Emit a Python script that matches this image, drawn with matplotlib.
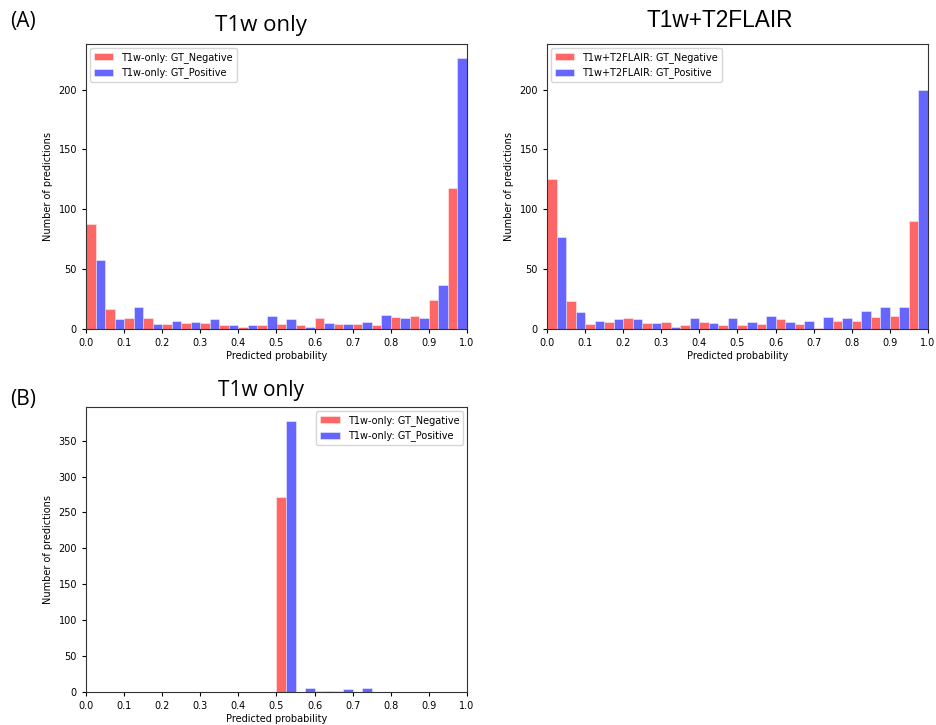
import numpy as np
import matplotlib
matplotlib.use("Agg")
import matplotlib.pyplot as plt

bin_edges = np.linspace(0, 1, 21)
bin_centers = (bin_edges[:-1] + bin_edges[1:]) / 2

a1_neg = [88, 17, 9, 9, 4, 5, 5, 3, 2, 3, 4, 3, 9, 4, 4, 3, 10, 11, 24, 118]
a1_pos = [58, 8, 18, 4, 7, 6, 8, 3, 3, 11, 8, 2, 5, 4, 6, 12, 9, 9, 37, 226]

a2_neg = [125, 23, 4, 6, 9, 5, 6, 3, 6, 3, 3, 4, 8, 4, 1, 7, 7, 10, 11, 90]
a2_pos = [77, 14, 7, 8, 8, 5, 2, 9, 5, 9, 6, 11, 6, 7, 10, 9, 15, 18, 18, 200]

b_neg = [0, 0, 0, 0, 0, 0, 0, 0, 0, 0, 271, 0, 2, 1, 0, 0, 0, 0, 0, 0]
b_pos = [0, 0, 0, 0, 0, 0, 0, 0, 0, 0, 378, 5, 1, 4, 5, 0, 0, 0, 0, 0]

xticks = [0.0, 0.1, 0.2, 0.3, 0.4, 0.5, 0.6, 0.7, 0.8, 0.9, 1.0]

fig = plt.figure(figsize=(9.37, 7.25), dpi=100)

def panel(rect, neg, pos, prefix, legend_loc, ylim=None, yticks=None):
    ax = fig.add_axes(rect)
    ax.hist([bin_centers, bin_centers], bins=bin_edges, weights=[neg, pos],
            color=['red', 'blue'], alpha=0.6, edgecolor='white', linewidth=0.5,
            rwidth=1.0,
            label=[f'{prefix}: GT_Negative', f'{prefix}: GT_Positive'])
    ax.set_xlim(0, 1)
    ax.set_xticks(xticks)
    if ylim is not None:
        ax.set_ylim(*ylim)
    if yticks is not None:
        ax.set_yticks(yticks)
    ax.tick_params(labelsize=7, length=3, width=0.8)
    ax.set_xlabel('Predicted probability', fontsize=7, labelpad=2)
    ax.set_ylabel('Number of predictions', fontsize=7, labelpad=4)
    ax.legend(loc=legend_loc, fontsize=7, handlelength=2.0, borderaxespad=0.4)
    for s in ax.spines.values():
        s.set_linewidth(0.8)
        s.set_color('#333333')
    return ax

ya = (0, 238)
yt = [0, 50, 100, 150, 200]
panel([86/937, 1 - 329/725, 381/937, 285/725], a1_neg, a1_pos, 'T1w-only', 'upper left', ya, yt)
panel([547/937, 1 - 329/725, 381/937, 285/725], a2_neg, a2_pos, 'T1w+T2FLAIR', 'upper left', ya, yt)
panel([86/937, 1 - 692/725, 381/937, 285/725], b_neg, b_pos, 'T1w-only', 'upper right')

def px(x, y):
    return x / 937, 1 - y / 725

fig.text(*px(261, 31), 'T1w only', fontsize=16, family='Open Sans', ha='center', va='baseline')
fig.text(*px(720, 27), 'T1w+T2FLAIR', fontsize=16.3, family='Liberation Sans', ha='center', va='baseline')
fig.text(*px(261, 396), 'T1w only', fontsize=15, family='Open Sans', ha='center', va='baseline')

fig.text(*px(10, 27), '(A)', fontsize=15, family='Open Sans', va='baseline', ha='left')
fig.text(*px(10, 405), '(B)', fontsize=15, family='Open Sans', va='baseline', ha='left')

fig.savefig('out.png', dpi=100)
